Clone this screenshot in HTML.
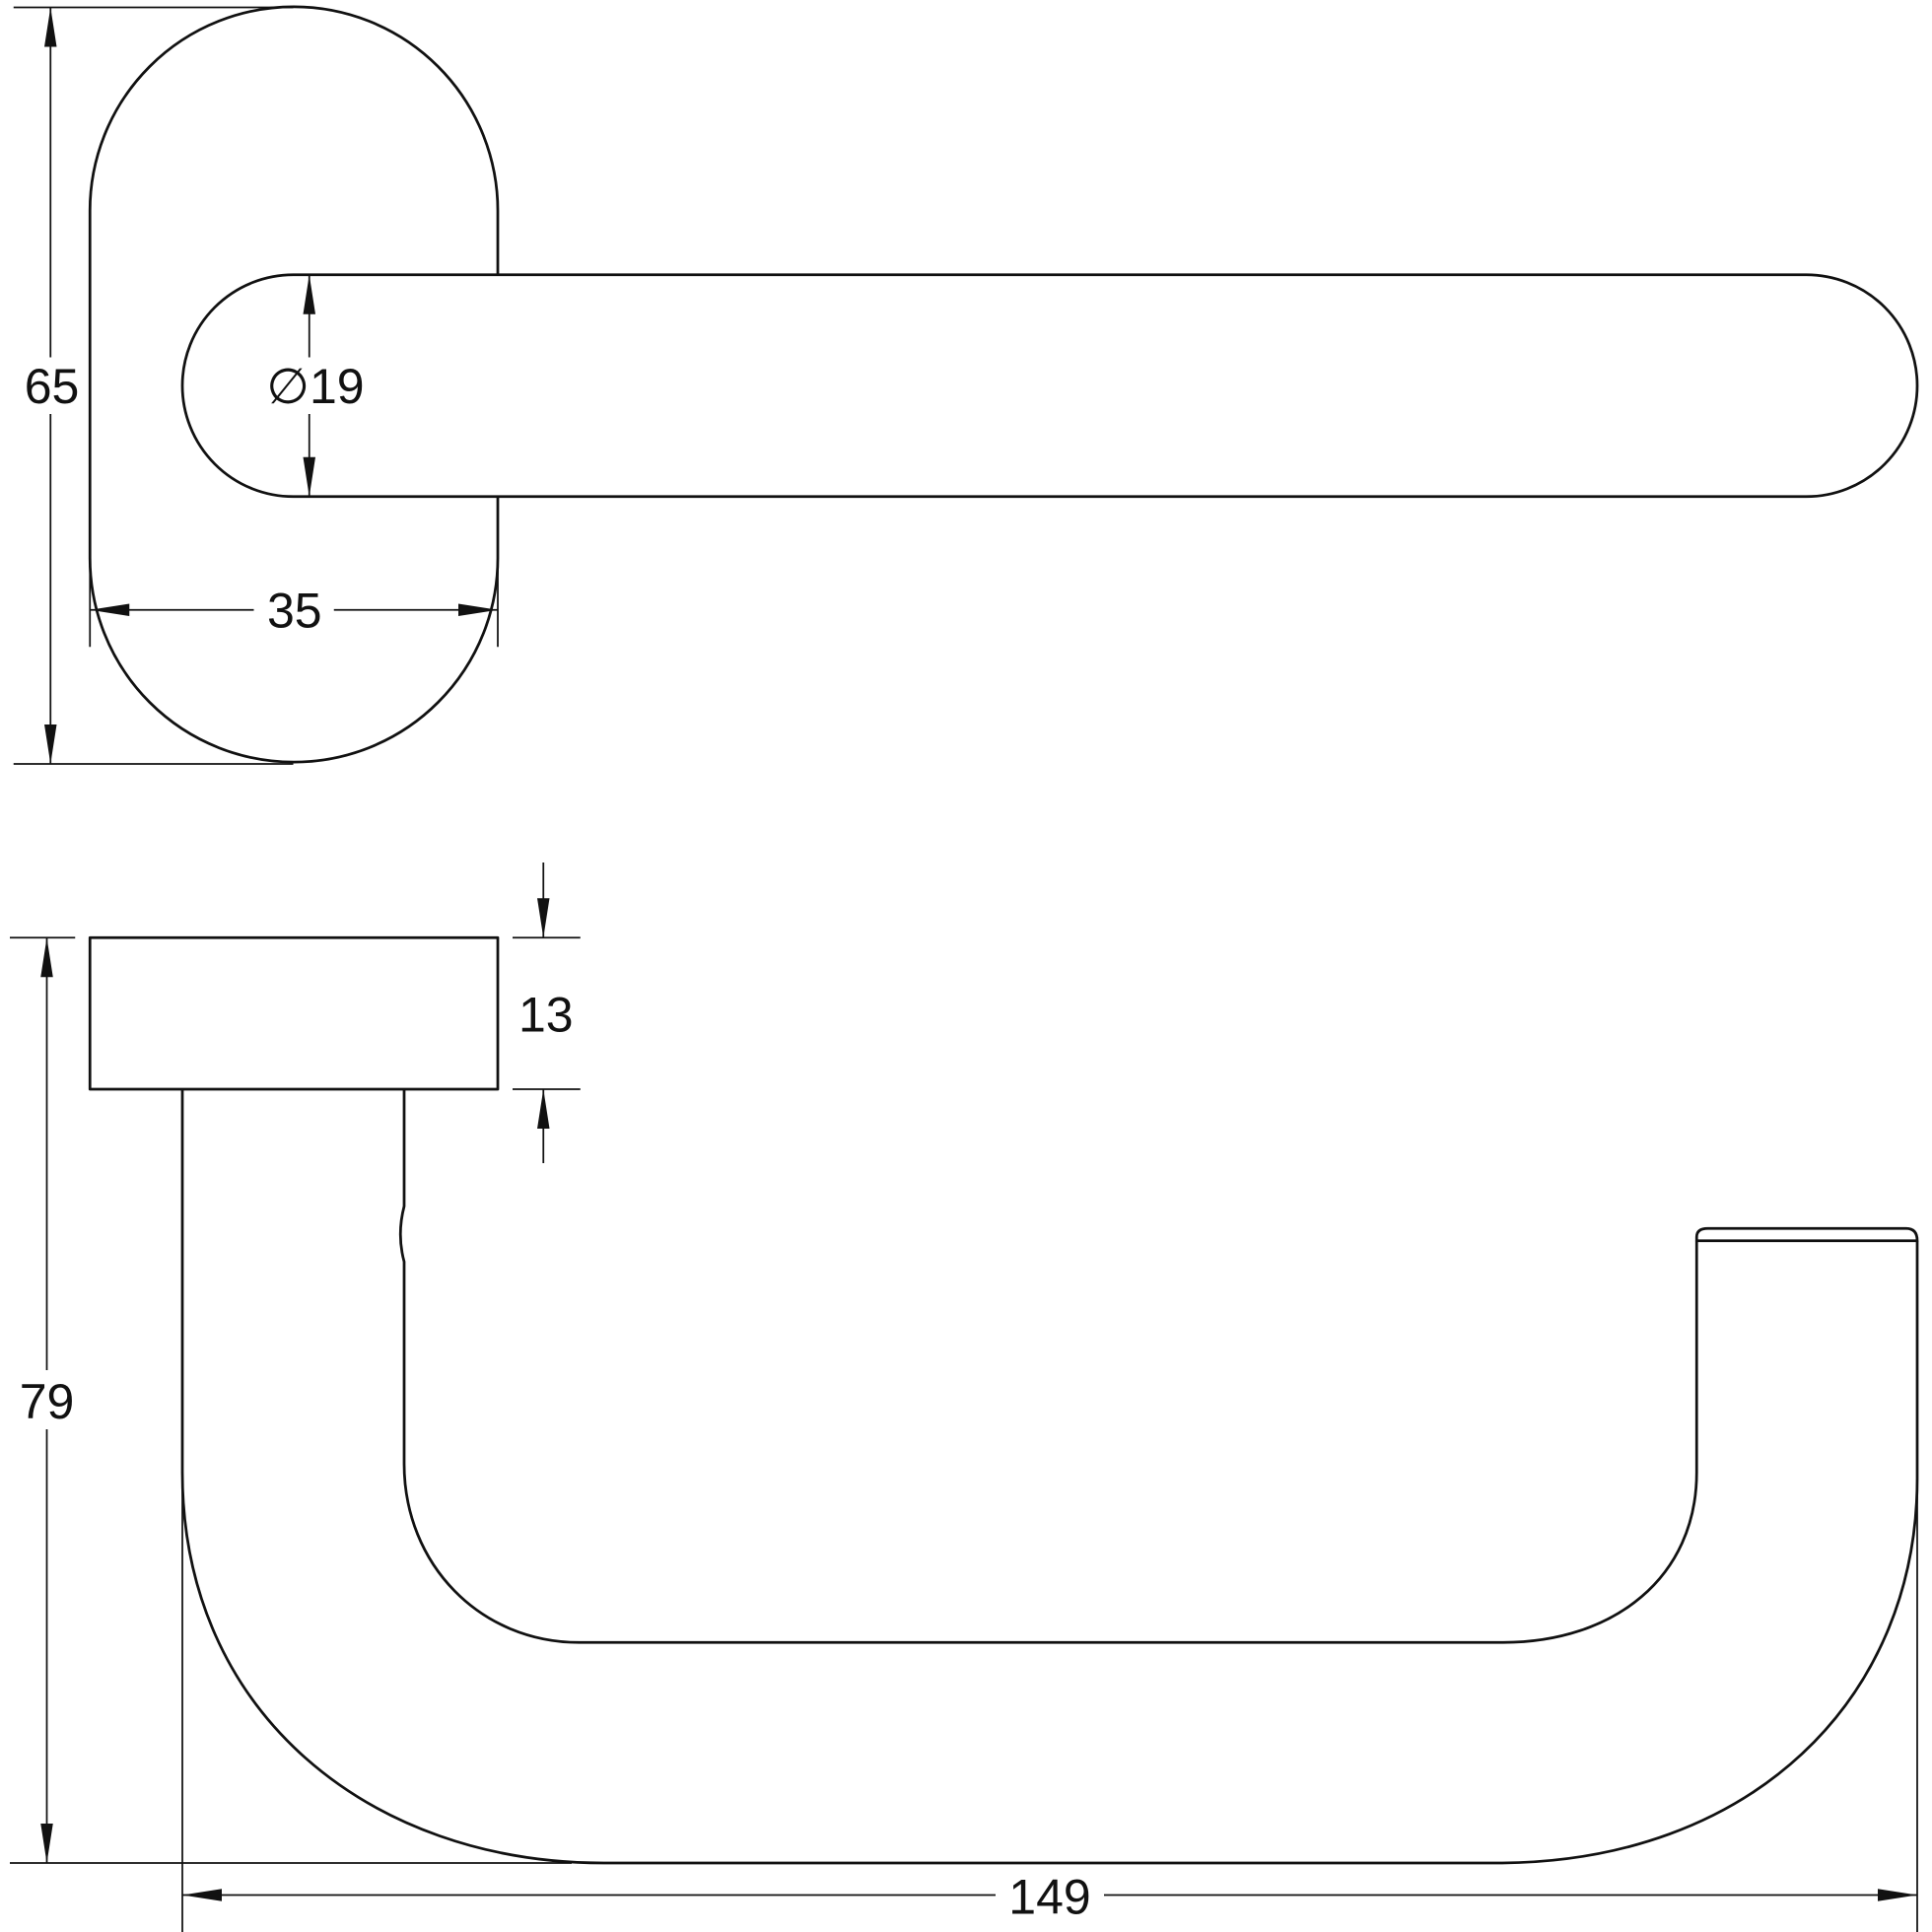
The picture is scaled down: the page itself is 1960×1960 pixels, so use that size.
<!DOCTYPE html>
<html><head><meta charset="utf-8"><style>
html,body{margin:0;padding:0;background:#fff}
svg{display:block}
text{font-family:"Liberation Sans",sans-serif;font-size:40px;fill:#111;text-anchor:middle}
</style></head><body>
<svg width="1960" height="1960" viewBox="0 0 1568 1568" xmlns="http://www.w3.org/2000/svg">
<g fill="none" stroke="#111" stroke-width="2.2" stroke-linejoin="round">
<!-- rose top view -->
<path d="M404,223 L404,171 A165.5,165.5 0 0 0 73,171 L73,453 A165.5,165.5 0 0 0 404,453 L404,403"/>
<!-- lever -->
<path d="M238,223 L1466,223 A90,90 0 0 1 1466,403 L238,403 A90,90 0 0 1 238,223 Z"/>
<!-- side rose -->
<rect x="73" y="761" width="331" height="123"/>
<!-- handle -->
<path d="M148,884 L148,1195 C148,1390 300,1512 490,1512 L1215,1512 C1420,1512 1556,1380 1556,1200 L1556,1007"/>
<path d="M328,884 L328,979 Q322,1002 328,1024 L328,1188 C328,1270 390,1333 470,1333 L1220,1333 C1310,1333 1377,1280 1377,1195 L1377,1007"/>
<path d="M1377,1007 L1377,1004 Q1377,997 1386,997 L1547,997 Q1556,997 1556,1007 Z"/>
</g>
<g fill="none" stroke="#111" stroke-width="1.4">
<!-- 65 -->
<line x1="11" y1="6" x2="238" y2="6"/><line x1="11" y1="620" x2="238" y2="620"/>
<line x1="41" y1="6" x2="41" y2="290"/><line x1="41" y1="336" x2="41" y2="620"/>
<!-- 19 -->
<line x1="251" y1="223" x2="251" y2="290"/><line x1="251" y1="336" x2="251" y2="403"/>
<!-- 35 -->
<line x1="73" y1="453" x2="73" y2="525"/><line x1="404" y1="453" x2="404" y2="525"/>
<line x1="73" y1="495" x2="206" y2="495"/><line x1="271" y1="495" x2="404" y2="495"/>
<!-- 13 -->
<line x1="416" y1="761" x2="471" y2="761"/><line x1="416" y1="884" x2="471" y2="884"/>
<line x1="441" y1="700" x2="441" y2="761"/><line x1="441" y1="884" x2="441" y2="944"/>
<!-- 79 -->
<line x1="8" y1="761" x2="61" y2="761"/><line x1="8" y1="1512" x2="464" y2="1512"/>
<line x1="38" y1="761" x2="38" y2="1112"/><line x1="38" y1="1160" x2="38" y2="1512"/>
<!-- 149 -->
<line x1="148" y1="1195" x2="148" y2="1568"/><line x1="1556" y1="1200" x2="1556" y2="1568"/>
<line x1="148" y1="1538" x2="808" y2="1538"/><line x1="896" y1="1538" x2="1556" y2="1538"/>
</g>
<g fill="#111">
<polygon points="41,6 36,38 46,38"/><polygon points="41,620 36,588 46,588"/>
<polygon points="251,223 246,255 256,255"/><polygon points="251,403 246,371 256,371"/>
<polygon points="73,495 105,490 105,500"/><polygon points="404,495 372,490 372,500"/>
<polygon points="441,761 436,729 446,729"/><polygon points="441,884 436,916 446,916"/>
<polygon points="38,761 33,793 43,793"/><polygon points="38,1512 33,1480 43,1480"/>
<polygon points="148,1538 180,1533 180,1543"/><polygon points="1556,1538 1524,1533 1524,1543"/>
</g>
<text x="42" y="327">65</text>
<text x="256" y="327">∅19</text>
<text x="239" y="509">35</text>
<text x="443" y="837">13</text>
<text x="38" y="1151">79</text>
<text x="852" y="1553">149</text>
</svg>
</body></html>
